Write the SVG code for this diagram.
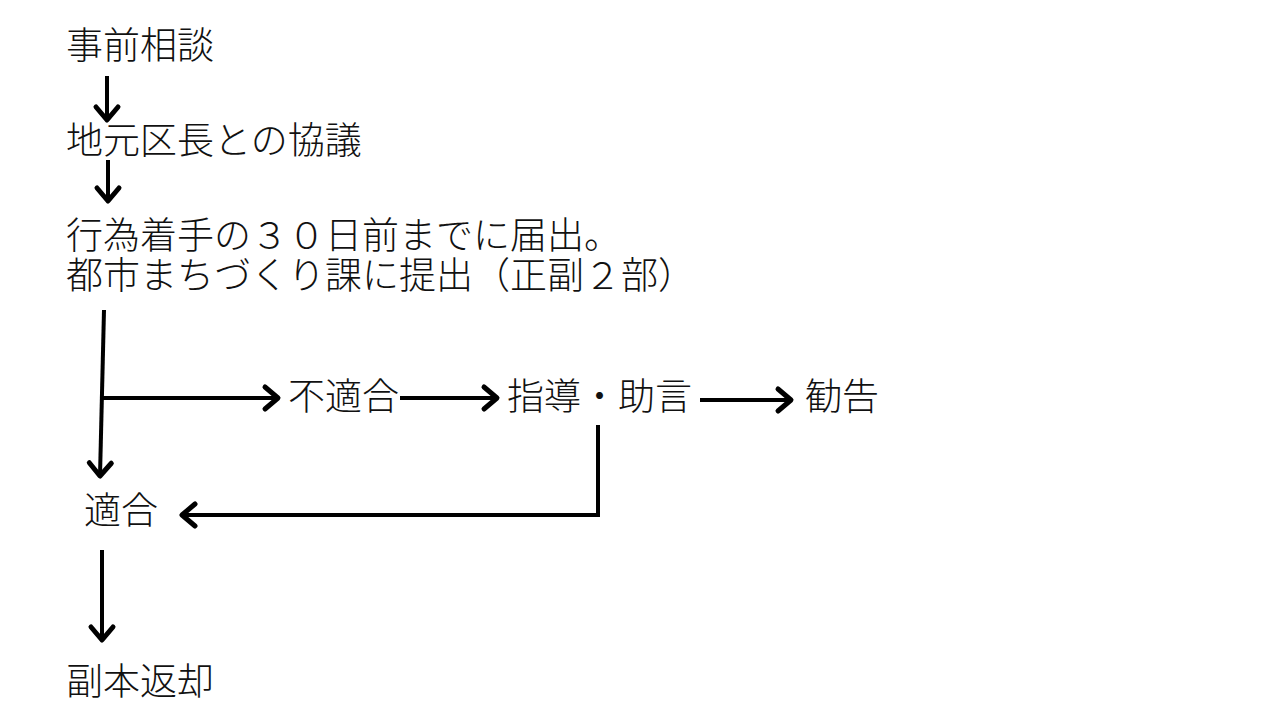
<svg xmlns="http://www.w3.org/2000/svg" width="1280" height="720" viewBox="0 0 1280 720">
  <style>
    text { font-family: "Noto Sans CJK JP", "Noto Sans CJK SC", sans-serif; font-size: 37px; fill: #111; font-weight: 300; }
    .c { fill: none; stroke: #000; stroke-width: 4; stroke-linejoin: miter; }
  </style>
  <defs>
    <marker id="ah" markerUnits="userSpaceOnUse" viewBox="-20 -16 24 32" refX="0" refY="0" markerWidth="24" markerHeight="32" orient="auto" overflow="visible">
      <path d="M-13,-11 L0,0 L-13,11" fill="none" stroke="#000" stroke-width="5" stroke-linecap="round" stroke-linejoin="round"/>
    </marker>
  </defs>
  <rect width="1280" height="720" fill="#fff"/>

  <g id="connectors">
    <line class="c" x1="107" y1="76" x2="107" y2="120" marker-end="url(#ah)"/>
    <line class="c" x1="108" y1="160" x2="108" y2="201" marker-end="url(#ah)"/>
    <line class="c" x1="104" y1="310" x2="100" y2="476" marker-end="url(#ah)"/>
    <line class="c" x1="103" y1="398" x2="278" y2="398" marker-end="url(#ah)"/>
    <line class="c" x1="400" y1="398" x2="497" y2="398" marker-end="url(#ah)"/>
    <line class="c" x1="700" y1="400" x2="791" y2="400" marker-end="url(#ah)"/>
    <polyline class="c" points="598,425 598,515 182,515" marker-end="url(#ah)"/>
    <line class="c" x1="102" y1="550" x2="102" y2="640" marker-end="url(#ah)"/>
  </g>

  <g id="n-jizen"><text x="66" y="59">事前相談</text></g>
  <g id="n-kyogi"><text x="66" y="154">地元区長との協議</text></g>
  <g id="n-todokede">
    <text x="66" y="249">行為着手の３０日前までに届出。</text>
    <text x="66" y="289">都市まちづくり課に提出（正副２部）</text>
  </g>
  <g id="n-futekigo"><text x="288" y="410">不適合</text></g>
  <g id="n-shido"><text x="507" y="410">指導・助言</text></g>
  <g id="n-kankoku"><text x="805" y="410">勧告</text></g>
  <g id="n-tekigo"><text x="84" y="524">適合</text></g>
  <g id="n-henkyaku"><text x="66" y="695">副本返却</text></g>
</svg>
